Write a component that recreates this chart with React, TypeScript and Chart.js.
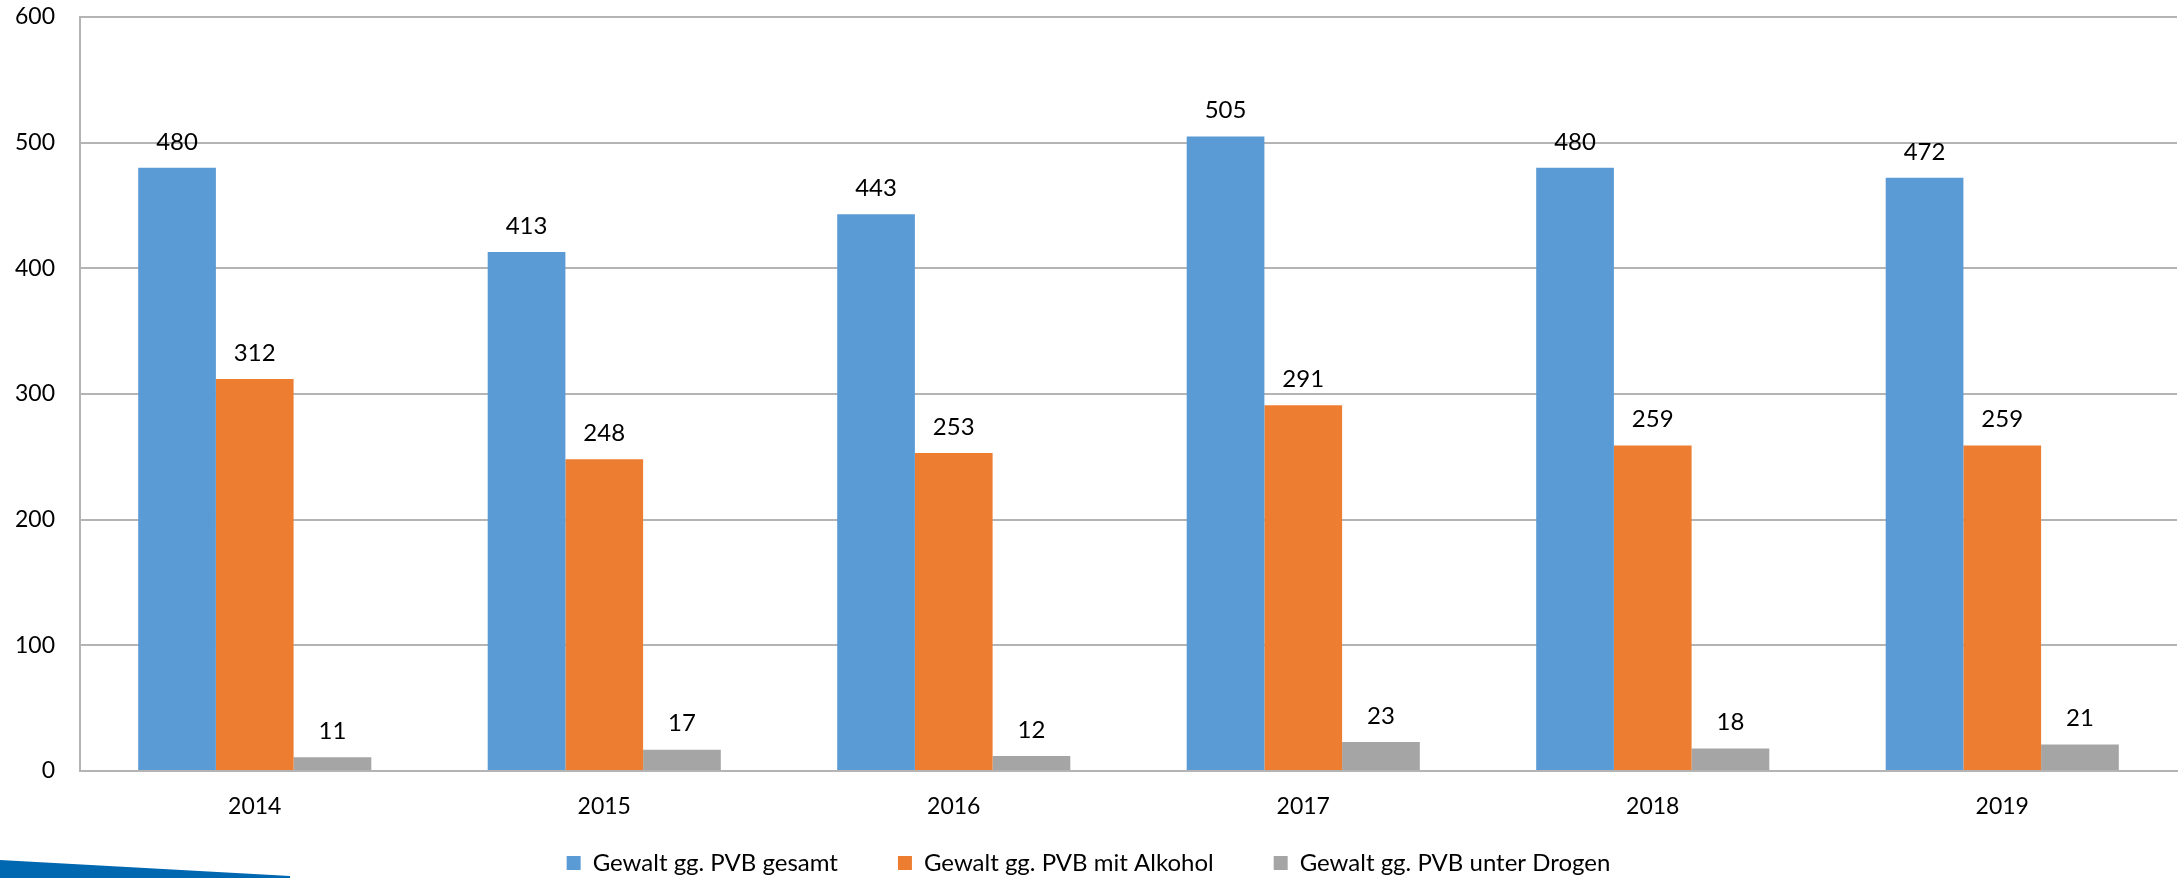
import React, { useEffect, useRef } from "react";
import { Chart, registerables } from "chart.js";

Chart.register(...registerables);

const years = ["2014", "2015", "2016", "2017", "2018", "2019"];
const gesamt = [480, 413, 443, 505, 480, 472];
const alkohol = [312, 248, 253, 291, 259, 259];
const drogen = [11, 17, 12, 23, 18, 21];
const seriesNames = [
  "Gewalt gg. PVB gesamt",
  "Gewalt gg. PVB mit Alkohol",
  "Gewalt gg. PVB unter Drogen",
];
const seriesColors = ["#5B9BD5", "#ED7D31", "#A5A5A5"];
const yMax = 600;
const yStep = 100;

const FONT = "Lato, 'Open Sans', sans-serif";

const valueLabels = {
  id: "valueLabels",
  afterDatasetsDraw(chart: any) {
    const ctx = chart.ctx;
    ctx.save();
    ctx.font = `24px ${FONT}`;
    ctx.fillStyle = "#000";
    ctx.textAlign = "center";
    ctx.textBaseline = "middle";
    chart.data.datasets.forEach((ds: any, di: number) => {
      const meta = chart.getDatasetMeta(di);
      meta.data.forEach((bar: any, i: number) => {
        ctx.fillText(String(ds.data[i]), bar.x, bar.y - 26);
      });
    });
    ctx.restore();
  },
};

const cornerBand = {
  id: "cornerBand",
  afterDraw(chart: any) {
    const ctx = chart.ctx;
    ctx.save();
    ctx.fillStyle = "#0067B1";
    ctx.beginPath();
    ctx.moveTo(0, 860);
    ctx.lineTo(290, 876);
    ctx.lineTo(290, 878);
    ctx.lineTo(0, 878);
    ctx.closePath();
    ctx.fill();
    ctx.restore();
  },
};

export default function App() {
  const ref = useRef<HTMLCanvasElement | null>(null);
  useEffect(() => {
    document.body.style.margin = "0";
    document.body.style.overflow = "hidden";
    const chart = new Chart(ref.current as HTMLCanvasElement, {
      type: "bar",
      data: {
        labels: years,
        datasets: [gesamt, alkohol, drogen].map((d, i) => ({
          label: seriesNames[i],
          data: d,
          backgroundColor: seriesColors[i],
          borderWidth: 0,
          barPercentage: 1,
          categoryPercentage: 0.667,
        })),
      },
      options: {
        responsive: false,
        animation: false,
        layout: { padding: { top: 17, right: 1, left: 0, bottom: -7 } },
        plugins: {
          tooltip: { enabled: false },
          legend: {
            position: "bottom",
            labels: {
              boxWidth: 14,
              boxHeight: 14,
              padding: 60,
              color: "#000",
              font: { family: FONT, size: 24 },
            },
          },
        },
        scales: {
          x: {
            grid: { display: false, drawTicks: false },
            border: { display: true, color: "#b4b4b4", width: 2 },
            ticks: {
              color: "#000",
              mirror: true,
              padding: -49,
              font: { family: FONT, size: 23 },
            },
            afterFit: (s: any) => {
              s.height = 20;
              s.paddingLeft = 0;
              s.paddingRight = 0;
            },
          },
          y: {
            min: 0,
            max: yMax,
            grid: { color: "#b4b4b4", lineWidth: 2, drawTicks: false },
            border: { display: true, color: "#b4b4b4", width: 2 },
            ticks: {
              stepSize: yStep,
              color: "#000",
              padding: 25,
              font: { family: FONT, size: 23 },
            },
            afterFit: (s: any) => {
              s.width = 80;
              s.paddingTop = 0;
              s.paddingBottom = 0;
            },
          },
        },
      },
      plugins: [valueLabels, cornerBand],
    });
    return () => chart.destroy();
  }, []);
  return <canvas ref={ref} width={2178} height={878} style={{ display: "block" }} />;
}
